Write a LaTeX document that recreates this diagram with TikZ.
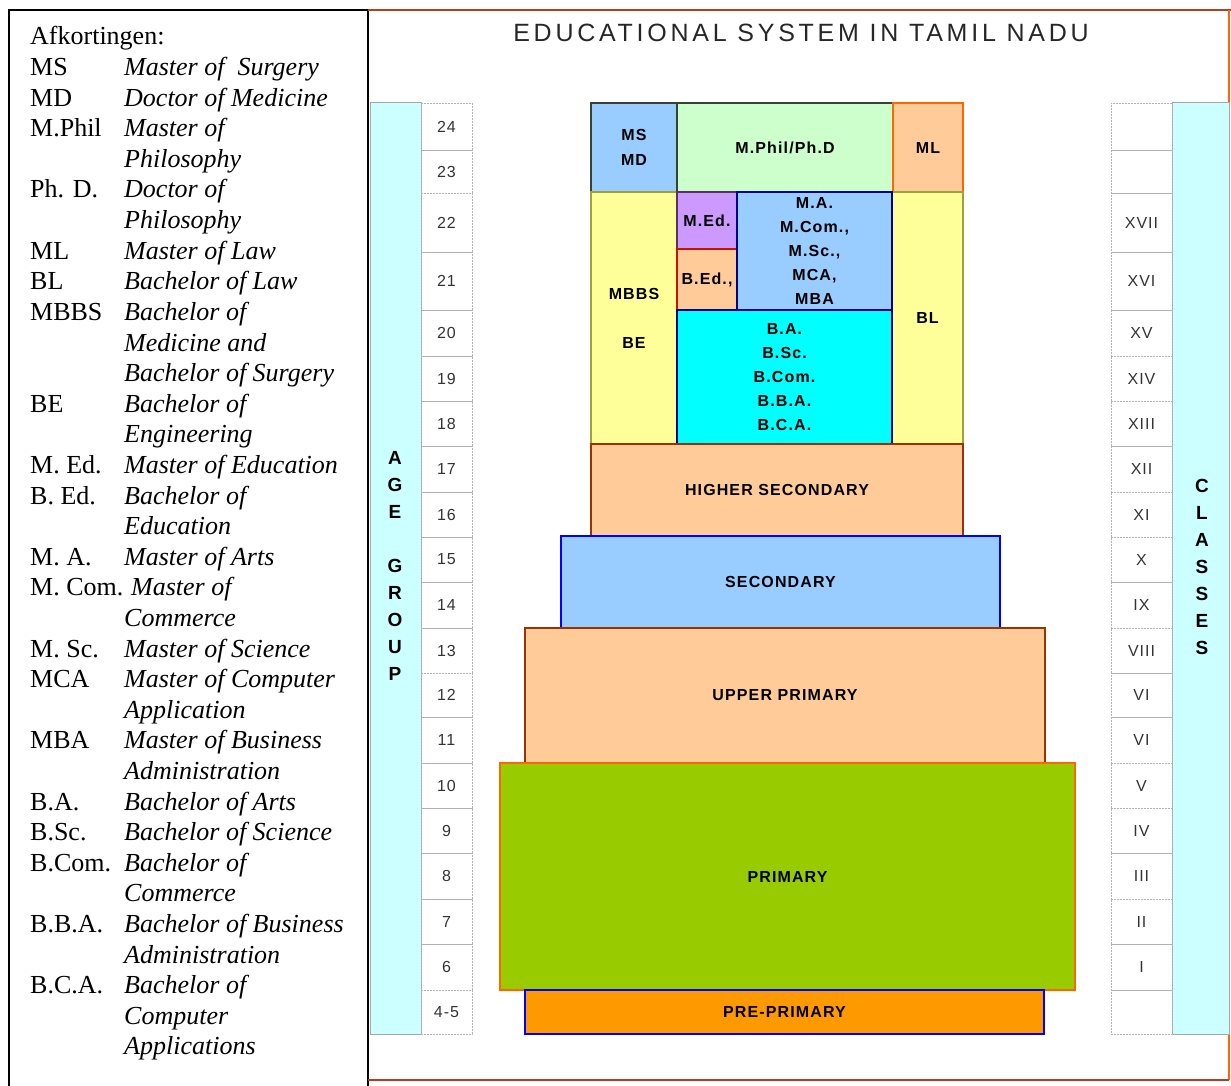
\documentclass[tikz,border=0pt]{standalone}
\usepackage{fontspec}
\setmainfont{Liberation Serif}
\newfontfamily\ttlsans[LetterSpace=15]{Liberation Sans}
\newfontfamily\lblsans[LetterSpace=7]{Liberation Sans}
\newfontfamily\numsans[LetterSpace=6]{Liberation Sans}

\definecolor{cIce}{HTML}{CCFFFF}
\definecolor{cSky}{HTML}{99CCFF}
\definecolor{cMint}{HTML}{CCFFCC}
\definecolor{cPeach}{HTML}{FFCC99}
\definecolor{cLemon}{HTML}{FFFF99}
\definecolor{cLilac}{HTML}{CC99FF}
\definecolor{cAqua}{HTML}{00FFFF}
\definecolor{cLime}{HTML}{99CC00}
\definecolor{cAmber}{HTML}{FF9900}
\definecolor{bGreen}{HTML}{334433}
\definecolor{bOrange}{HTML}{FF6600}
\definecolor{bOlive}{HTML}{A0A040}
\definecolor{bPurple}{HTML}{553366}
\definecolor{bRed}{HTML}{CC1100}
\definecolor{bNavy}{HTML}{000088}
\definecolor{bBrown}{HTML}{993300}
\definecolor{bBlue}{HTML}{0000FF}
\definecolor{bFrame}{HTML}{B04020}
\definecolor{txtGray}{HTML}{333333}

\newcommand\lblfont{\lblsans\bfseries\fontsize{16}{24}\selectfont}
% block: name, x1, y1, x2, y2, options, text
\newcommand\blk[7]{%
  \node[blk,#6,minimum width={#4pt-#2pt},minimum height={#5pt-#3pt}] (#1) at (#2,#3) {#7};}
% legend row: row number, abbreviation, description
\newcommand\legrow[3]{%
  \node[legab] (ab#1) at (30,{45+30.6*(#1-1)}) {#2};
  \node[legde] (de#1) at (124,{45+30.6*(#1-1)}) {#3};}

\begin{document}
\begin{tikzpicture}[x=1pt,y=-1pt,
  blk/.style={draw,line width=1.5pt,inner sep=0pt,outer sep=0pt,anchor=north west,
    align=center,text=black,font=\lblfont},
  cell/.style={draw=gray!60,line width=0.8pt,dash pattern=on 2pt off 1pt,inner sep=0pt,
    outer sep=0pt,anchor=north west,text=txtGray,font=\numsans\fontsize{16}{18}\selectfont},
  bar/.style={fill=cIce,draw=gray!70,line width=1pt,inner sep=0pt,outer sep=0pt,anchor=north west},
  vlabel/.style={align=center,inner sep=0pt,font=\numsans\bfseries\fontsize{19}{27}\selectfont},
  legab/.style={anchor=base west,inner sep=0pt,font=\fontsize{26}{30}\selectfont},
  legde/.style={anchor=base west,inner sep=0pt,font=\fontsize{26}{30}\selectfont\itshape},
]
\useasboundingbox (0,0) rectangle (1231,1086);

% legend frame
\draw[black,line width=1.5pt] (9,1090) -- (9,10) -- (368,10) -- (368,1090);
% chart frame
\draw[bFrame,line width=1.5pt] (368,10) -- (1231,10);
\draw[bOrange,line width=1.5pt] (1229,10) -- (1229,1080);
\draw[bFrame,line width=1.5pt] (368,1080) -- (1229,1080);

% title
\node[font=\ttlsans\fontsize{25}{30}\selectfont,text=black!85] (title) at (801,33) {EDUCATIONAL SYSTEM IN TAMIL NADU};

% side bars
\node[bar,minimum width=51pt,minimum height=931pt] (agebar) at (370,103) {};
\node[bar,minimum width=57pt,minimum height=931pt] (clsbar) at (1172,103) {};
\node[vlabel] (agetxt) at (395,566) {A\\G\\E\\[27pt]G\\R\\O\\U\\P};
\node[vlabel] (clstxt) at (1202,567) {C\\L\\A\\S\\S\\E\\S};

% age and class cells
\foreach \t/\b/\a/\c [count=\i] in {103/150/24/{}, 150/193/23/{}, 193/252/22/XVII,
  252/310/21/XVI, 310/356/20/XV, 356/401/19/XIV, 401/446/18/XIII, 446/492/17/XII,
  492/537/16/XI, 537/582/15/X, 582/628/14/IX, 628/673/13/VIII, 673/717/12/VI,
  717/763/11/VI, 763/808/10/V, 808/853/9/IV, 853/899/8/III, 899/944/7/II,
  944/990/6/I, 990/1034/4-5/{}}
{
  \node[cell,minimum width=51pt,minimum height={(\b-\t)*1pt}] (age\i) at (421,\t) {\a};
  \node[cell,minimum width=61pt,minimum height={(\b-\t)*1pt}] (cls\i) at (1111,\t) {\c};
}

% upper blocks
\blk{msmd}{591}{103}{677}{192}{fill=cSky,draw=bGreen}{MS\\[1pt]MD}
\blk{mphil}{677}{103}{893}{192}{fill=cMint,draw=bGreen}{M.Phil/Ph.D}
\blk{ml}{893}{103}{963}{192}{fill=cPeach,draw=bOrange}{ML}
\blk{mbbs}{591}{192}{677}{444}{fill=cLemon,draw=bOlive}{MBBS\\[25pt]BE}
\blk{bl}{892}{192}{963}{444}{fill=cLemon,draw=bOlive}{BL}
\blk{med}{677}{192}{737}{249}{fill=cLilac,draw=bPurple}{M.Ed.}
\blk{bed}{677}{249}{737}{310}{fill=cPeach,draw=bRed}{B.Ed.,}
\blk{ma}{737}{192}{892}{310}{fill=cSky,draw=bNavy}{M.A.\\M.Com.,\\M.Sc.,\\MCA,\\MBA}
\blk{ba}{677}{310}{892}{444}{fill=cAqua,draw=bNavy}{B.A.\\B.Sc.\\B.Com.\\B.B.A.\\B.C.A.}

% school levels
\blk{hsec}{591}{444}{963}{536}{fill=cPeach,draw=bBrown}{HIGHER SECONDARY}
\blk{sec}{561}{536}{1000}{628}{fill=cSky,draw=bBlue}{SECONDARY}
\blk{upr}{525}{628}{1045}{763}{fill=cPeach,draw=bBrown}{UPPER PRIMARY}
\blk{pri}{500}{763}{1075}{990}{fill=cLime,draw=bOrange}{PRIMARY}
\blk{pre}{525}{990}{1044}{1034}{fill=cAmber,draw=bBlue}{PRE-PRIMARY}

% abbreviations
\node[legab] (ab1) at (30,45) {Afkortingen:};
\legrow{2}{MS}{Master of~~Surgery}
\legrow{3}{MD}{Doctor of Medicine}
\legrow{4}{M.Phil}{Master of}
\legrow{5}{}{Philosophy}
\legrow{6}{Ph. D.}{Doctor of}
\legrow{7}{}{Philosophy}
\legrow{8}{ML}{Master of Law}
\legrow{9}{BL}{Bachelor of Law}
\legrow{10}{MBBS}{Bachelor of}
\legrow{11}{}{Medicine and}
\legrow{12}{}{Bachelor of Surgery}
\legrow{13}{BE}{Bachelor of}
\legrow{14}{}{Engineering}
\legrow{15}{M. Ed.}{Master of Education}
\legrow{16}{B. Ed.}{Bachelor of}
\legrow{17}{}{Education}
\legrow{18}{M. A.}{Master of Arts}
\node[legab] (ab19) at (30,{45+30.6*18}) {M. Com.};
\node[legde] (de19) at (131,{45+30.6*18}) {Master of};
\legrow{20}{}{Commerce}
\legrow{21}{M. Sc.}{Master of Science}
\legrow{22}{MCA}{Master of Computer}
\legrow{23}{}{Application}
\legrow{24}{MBA}{Master of Business}
\legrow{25}{}{Administration}
\legrow{26}{B.A.}{Bachelor of Arts}
\legrow{27}{B.Sc.}{Bachelor of Science}
\legrow{28}{B.Com.}{Bachelor of}
\legrow{29}{}{Commerce}
\legrow{30}{B.B.A.}{Bachelor of Business}
\legrow{31}{}{Administration}
\legrow{32}{B.C.A.}{Bachelor of}
\legrow{33}{}{Computer}
\legrow{34}{}{Applications}
\end{tikzpicture}
\end{document}
